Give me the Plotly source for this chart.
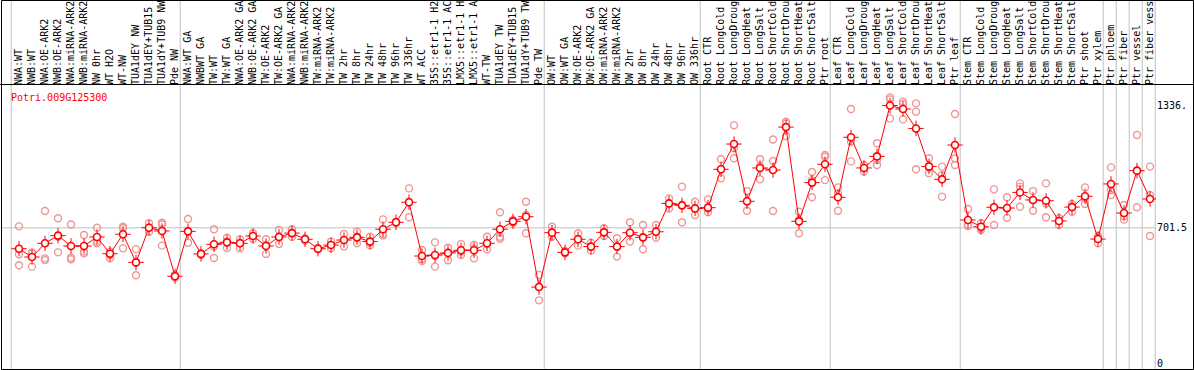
import plotly.graph_objects as go

labels = [
    "NWA:WT", "NWB:WT", "NWA:OE-ARK2", "NWB:OE-ARK2", "NWA:miRNA-ARK2", "NWB:miRNA-ARK2",
    "NW 0hr", "WT H2O", "WT-NW", "TUA1dEY NW", "TUA1dEY+TUB15 NW", "TUA1dY+TUB9 NW", "Pde NW",
    "NWA:WT GA", "NWBWT GA", "TW:WT", "TW:WT GA", "NWA:OE-ARK2 GA", "NWB:OE-ARK2 GA",
    "TW:OE-ARK2", "TW:OE-ARK2 GA", "NWA:miRNA-ARK2", "NWB:miRNA-ARK2", "TW:miRNA-ARK2",
    "TW:miRNA-ARK2", "TW 2hr", "TW 8hr", "TW 24hr", "TW 48hr", "TW 96hr", "TW 336hr", "WT ACC",
    "35S::etr1-1 H2O", "35S::etr1-1 ACC", "LMX5::etr1-1 H2O", "LMX5::etr1-1 ACC", "WT-TW",
    "TUA1dEY TW", "TUA1dEY+TUB15 TW", "TUA1dY+TUB9 TW", "Pde TW",
    "OW:WT", "OW:WT GA", "OW:OE-ARK2", "OW:OE-ARK2 GA", "OW:miRNA-ARK2", "OW:miRNA-ARK2",
    "OW 2hr", "OW 8hr", "OW 24hr", "OW 48hr", "OW 96hr", "OW 336hr",
    "Root CTR", "Root LongCold", "Root LongDrought", "Root LongHeat", "Root LongSalt",
    "Root ShortCold", "Root ShortDrought", "Root ShortHeat", "Root ShortSalt", "Ptr root",
    "Leaf CTR", "Leaf LongCold", "Leaf LongDrought", "Leaf LongHeat", "Leaf LongSalt",
    "Leaf ShortCold", "Leaf ShortDrought", "Leaf ShortHeat", "Leaf ShortSalt", "Ptr leaf",
    "Stem CTR", "Stem LongCold", "Stem LongDrought", "Stem LongHeat", "Stem LongSalt",
    "Stem ShortCold", "Stem ShortDrought", "Stem ShortHeat", "Stem ShortSalt", "Ptr shoot",
    "Ptr xylem", "Ptr phloem", "Ptr fiber", "Ptr vessel", "Ptr fiber vessel",
]

mean_values = [
    593, 550, 621, 661, 607, 607, 654, 567, 668, 522, 702, 685, 450,
    683, 566, 616, 626, 621, 659, 607, 654, 674, 642, 593, 612, 638, 652, 630, 694, 730, 834,
    555, 560, 571, 585, 585, 621, 694, 735, 759, 394,
    676, 574, 642, 604, 678, 604, 676, 652, 681, 828, 818, 802,
    806, 1005, 1136, 839, 1012, 1001, 1224, 735, 936, 1031,
    860, 1171, 1012, 1072, 1336, 1318, 1217, 1020, 953, 1131,
    742, 707, 808, 804, 885, 846, 842, 737, 809, 865,
    643, 929, 778, 998, 851,
]

replicate_values = [
    [709, 564, 507], [574, 569, 500], [789, 543, 534], [751, 655, 574], [719, 547, 538],
    [664, 578, 569], [702, 630, 621], [578, 560, 543], [707, 699, 595], [591, 522, 455],
    [725, 702, 681], [728, 719, 609], [457, 448, 444],
    [747, 685, 624], [569, 566, 560], [694, 604, 545], [650, 630, 597], [642, 624, 595],
    [673, 659, 645], [642, 612, 566], [690, 655, 617], [694, 673, 655], [647, 642, 635],
    [597, 593, 590], [630, 612, 595], [669, 638, 604], [681, 655, 621], [655, 624, 611],
    [745, 669, 662], [733, 730, 726], [906, 837, 756], [586, 540, 529], [626, 555, 500],
    [598, 574, 533], [617, 578, 560], [612, 595, 543], [655, 617, 590], [782, 655, 645],
    [742, 735, 728], [837, 768, 673], [457, 394, 325],
    [707, 681, 655], [581, 574, 569], [673, 642, 609], [624, 604, 583], [699, 676, 659],
    [647, 604, 552], [730, 676, 630], [716, 652, 590], [716, 681, 650], [854, 828, 802],
    [915, 818, 730], [837, 802, 768],
    [849, 802, 782], [1057, 1005, 958], [1233, 1114, 1062], [892, 837, 790], [1057, 1022, 953],
    [1160, 1048, 789], [1252, 1243, 1178], [785, 742, 673], [991, 949, 860], [1079, 1070, 949],
    [911, 880, 790], [1318, 1148, 1046], [1027, 1010, 993], [1140, 1053, 1027],
    [1378, 1368, 1269], [1356, 1344, 1264], [1347, 1304, 1005], [1062, 1010, 984],
    [1019, 975, 863], [1292, 1062, 1027],
    [799, 716, 711], [725, 699, 690], [901, 808, 716], [860, 802, 754], [932, 915, 811],
    [892, 846, 790], [932, 828, 756], [751, 737, 716], [825, 811, 785], [911, 854, 825],
    [659, 649, 621], [1015, 898, 872], [820, 763, 745], [1183, 998, 808], [1019, 872, 659],
]

group_starts = [0, 13, 41, 53, 63, 73, 84, 85, 86, 87, 88]
axis_ticks = [0, 701.5, 1336]
axis_ticktext = ["0", "701.5", "1336."]
gene_name = "Potri.009G125300"

FONT = "DejaVu Sans Mono"
RED = "#ff0000"
PINK = "rgb(238,150,150)"

idx = list(range(len(labels)))
rep_x, rep_y = [], []
for i, reps in enumerate(replicate_values):
    for v in reps:
        rep_x.append(i)
        rep_y.append(v)

fig = go.Figure()
fig.add_trace(go.Scatter(
    x=rep_x, y=rep_y, mode="markers",
    marker=dict(symbol="circle-open", size=7, color=PINK, line=dict(width=1.4, color=PINK)),
    hoverinfo="skip", showlegend=False,
))
fig.add_trace(go.Scatter(
    x=idx, y=mean_values, mode="markers",
    marker=dict(symbol="cross-thin-open", size=11, color=RED, line=dict(width=1, color=RED)),
    hoverinfo="skip", showlegend=False,
))
fig.add_trace(go.Scatter(
    x=idx, y=mean_values, mode="lines+markers",
    line=dict(color=RED, width=1),
    marker=dict(symbol="circle", size=7, color="white", line=dict(width=1.6, color=RED)),
    showlegend=False,
))

shapes = []
for g in group_starts:
    shapes.append(dict(type="line", xref="x", yref="paper", x0=g - 0.6, x1=g - 0.6,
                       y0=0, y1=1.3, line=dict(color="#c0c0c0", width=1), layer="below"))
shapes.append(dict(type="line", xref="paper", yref="y", x0=0, x1=1, y0=axis_ticks[1], y1=axis_ticks[1],
                   line=dict(color="#c0c0c0", width=1), layer="below"))
# frame
H = 285.0
W = 1154.0
shapes.append(dict(type="rect", xref="paper", yref="paper",
                   x0=-0.5 / W, x1=(1193.5 - 2) / W, y0=0.5 / H, y1=(370 - 0.5) / H,
                   line=dict(color="black", width=1), fillcolor="rgba(0,0,0,0)"))
shapes.append(dict(type="line", xref="paper", yref="paper",
                   x0=-2 / W, x1=(1194 - 2) / W, y0=1 + 0.5 / H, y1=1 + 0.5 / H,
                   line=dict(color="black", width=1)))

fig.update_layout(
    width=1194, height=370,
    margin=dict(l=2, r=38, t=85, b=0, pad=0),
    paper_bgcolor="white", plot_bgcolor="white",
    font=dict(family=FONT, size=10, color="black"),
    shapes=shapes,
    xaxis=dict(
        side="top", range=[-17 / 13, -17 / 13 + W / 13],
        tickmode="array", tickvals=idx, ticktext=labels, tickangle=-90,
        ticks="", showgrid=False, zeroline=False, showline=False,
        ticklabelstandoff=-1,
        tickfont=dict(family=FONT, size=10, color="black"), automargin=False,
    ),
    yaxis=dict(
        side="right", range=[-36.3, 1442.4],
        tickmode="array", tickvals=axis_ticks, ticktext=axis_ticktext,
        ticks="", showgrid=False, zeroline=False, showline=False,
        tickfont=dict(family=FONT, size=10, color="black"), automargin=False,
    ),
    annotations=[dict(
        text=gene_name, xref="paper", yref="paper", x=7 / W, y=(370 - 97) / H,
        xanchor="left", yanchor="middle", showarrow=False,
        font=dict(family=FONT, size=10, color=RED),
    )],
)

fig.write_html(
    "out.html",
    config={"displayModeBar": False},
    post_script="document.body.style.margin='0';document.body.style.overflow='hidden';",
)
